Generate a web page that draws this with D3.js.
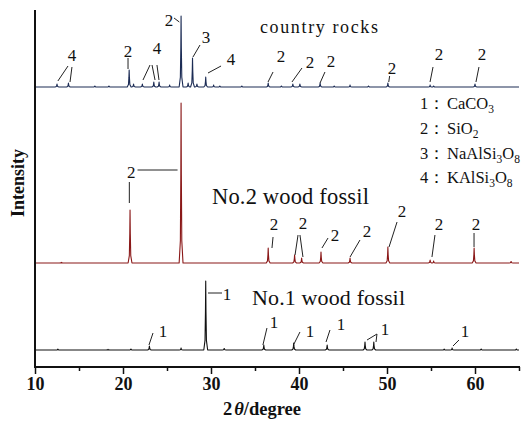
<!DOCTYPE html>
<html><head><meta charset="utf-8">
<script src="https://cdn.jsdelivr.net/npm/d3@7"></script>
<style>
html,body{margin:0;padding:0;background:#fff;}
svg{display:block;}
</style></head>
<body>
<svg id="chart" width="529" height="421"></svg>
<script>
// ---------------- data ----------------
const xTicks = [10, 20, 30, 40, 50, 60];
const xMinorTicks = [15, 25, 35, 45, 55, 65];
const xLabel = "2θ/degree";
const yLabel = "Intensity";

// peaks: [2θ, intensity above the pattern's own baseline]
const peaksCountryRocks = [[12.5,3],[13.8,4],[16.8,1],[18.4,1],[20.7,17],[21.2,3],[22.2,3],[23.5,5],[24.1,5],[25.3,2],[26.6,71],[27.4,4],[27.9,29],[28.4,3],[29.4,10],[30.3,2],[31.0,1],[33.5,1],[36.5,4],[38.0,1],[39.3,3],[40.1,3],[42.4,4],[44.0,1],[45.8,2],[47.9,1],[50.1,4],[54.9,2],[55.3,1],[60.0,3]];
const peaksNo2 = [[13.0,0.6],[20.8,53],[26.6,160],[36.5,15],[39.5,8],[40.3,5],[42.5,11],[45.8,5],[50.1,16],[54.9,3],[55.3,2],[59.9,15],[64.1,1.5]];
const peaksNo1 = [[12.6,0.8],[18.3,0.6],[20.9,1],[23.0,4],[26.6,2],[29.4,69],[31.5,1.5],[36.0,5],[39.4,7],[43.2,5],[47.5,8],[48.5,8],[56.5,0.8],[57.4,2],[60.7,1],[64.7,1]];

const seriesNames = ["country rocks", "No.2 wood fossil", "No.1 wood fossil"];
const seriesOffsets = [280, 104, 17];   // vertical stacking offset of each pattern

const legendNums = ["1：", "2：", "3：", "4："];
const legendFormulas = [
  [["CaCO",0],["3",1]],
  [["SiO",0],["2",1]],
  [["NaAlSi",0],["3",1],["O",0],["8",1]],
  [["KAlSi",0],["3",1],["O",0],["8",1]]
];

// peak annotations: label, text anchor (2θ, I), leader lines in (2θ, I)
const annCountry = [
  {t:"4", at:[14.2,312], lines:[[[13.75,301],[12.6,286]],[[14.2,300],[13.98,285]]]},
  {t:"2", at:[20.57,316], lines:[[[20.57,309],[20.57,298]]]},
  {t:"4", at:[23.86,319], lines:[[[23.07,302],[22.27,287]],[[23.3,302],[23.64,287]],[[23.86,302],[24.09,287]]]},
  {t:"2", at:[25.23,347], lines:[[[25.8,349],[26.4,345]]]},
  {t:"3", at:[29.43,330], lines:[[[28.75,322],[27.95,310]]]},
  {t:"4", at:[32.27,308], lines:[[[31.14,301],[29.66,294]]]},
  {t:"2", at:[37.95,311], lines:[[[37.05,295],[36.48,285]]]},
  {t:"2", at:[41.25,305], lines:[[[40.34,299],[39.2,285]]]},
  {t:"2", at:[43.64,306], lines:[[[42.95,295],[42.39,284]]]},
  {t:"2", at:[50.57,299], lines:[[[50.3,291],[50.2,285]]]},
  {t:"2", at:[55.9,313], lines:[[[55.23,300],[54.89,285]]]},
  {t:"2", at:[60.8,313], lines:[[[60.45,300],[60.11,285]]]}
];
const annNo2 = [
  {t:"2", at:[20.95,195], lines:[[[21.65,197],[26.2,197]],[[20.72,185],[20.72,164]]]},
  {t:"2", at:[37.16,143], lines:[[[37.05,130],[36.93,119]]]},
  {t:"2", at:[40.45,144], lines:[[[39.89,132],[39.55,112]],[[40.11,132],[40.45,110]]]},
  {t:"2", at:[44.09,132], lines:[[[43.3,129],[42.61,119]]]},
  {t:"2", at:[47.73,136], lines:[[[46.93,127],[45.8,110]]]},
  {t:"2", at:[51.7,156], lines:[[[51.14,145],[50.23,120]]]},
  {t:"2", at:[55.9,143], lines:[[[55.45,132],[55.11,110]]]},
  {t:"2", at:[60.11,143], lines:[[[59.89,134],[59.89,120]]]}
];
const annNo1 = [
  {t:"1", at:[24.55,36], lines:[[[23.41,34],[22.95,22]]]},
  {t:"1", at:[31.82,73], lines:[[[29.66,74],[31.25,74]]]},
  {t:"1", at:[37.16,45], lines:[[[36.36,39],[35.9,22]]]},
  {t:"1", at:[41.25,36], lines:[[[40.11,35],[39.43,23]]]},
  {t:"1", at:[44.77,43], lines:[[[43.52,37],[43.07,25]]]},
  {t:"1", at:[49.77,38], lines:[[[48.86,33],[47.73,27]],[[48.86,33],[48.75,25]]]},
  {t:"1", at:[58.86,36], lines:[[[58.18,27],[57.5,21]]]}
];

// ---------------- drawing ----------------
const SERIF = "Liberation Serif";
const svg = d3.select("#chart");
svg.append("rect").attr("width",529).attr("height",421).attr("fill","#fff");

const x = d3.scaleLinear().domain([10,65]).range([35,519]);
const y = d3.scaleLinear().domain([0,357]).range([367,10]);

const colors = ["#1c2c55", "#8a1818", "#111111"];
const allPeaks = [peaksCountryRocks, peaksNo2, peaksNo1];

function patternPoints(peaks, off){
  const pts = [[10,0]];
  peaks.forEach(([p,h])=>{
    pts.push([p-0.22,0],[p-0.08,0.14*h],[p-0.03,0.55*h],[p,h],[p+0.03,0.55*h],[p+0.08,0.14*h],[p+0.22,0]);
  });
  pts.push([65,0]);
  pts.sort((a,b)=>a[0]-b[0]);
  return pts.map(d=>[d[0], d[1]+off]);
}
const line = d3.line().x(d=>x(d[0])).y(d=>y(d[1]));

allPeaks.forEach((pk,i)=>{
  svg.append("path")
    .attr("d", line(patternPoints(pk, seriesOffsets[i])))
    .attr("fill","none").attr("stroke",colors[i]).attr("stroke-width",1.1)
    .attr("stroke-linejoin","round");
});

function txt(sel){ return sel.append("text").attr("font-family",SERIF).attr("fill","#111"); }

// axes
const xAxisG = svg.append("g").attr("transform","translate(0,367)");
xAxisG.call(d3.axisBottom(x).tickValues(xTicks).tickSize(7).tickFormat(d3.format("d")));
xAxisG.append("g").call(d3.axisBottom(x).tickValues(xMinorTicks).tickSize(4).tickFormat(""));
xAxisG.selectAll(".domain").remove();
xAxisG.attr("font-family", SERIF).attr("font-size", 18);
xAxisG.selectAll("g").attr("font-family", SERIF);
xAxisG.selectAll("line").attr("stroke","#111").attr("stroke-width",1.5);
xAxisG.selectAll("text").attr("font-family", SERIF)
  .attr("font-weight","bold").attr("font-size",18).attr("fill","#111").attr("y",10).attr("dy","0.71em");
svg.append("line").attr("x1",34).attr("x2",x(65)+1).attr("y1",367).attr("y2",367)
  .attr("stroke","#111").attr("stroke-width",2);
svg.append("line").attr("x1",35).attr("x2",35).attr("y1",y(357)).attr("y2",368)
  .attr("stroke","#111").attr("stroke-width",2);

// axis titles
const xt = txt(svg).attr("x",262).attr("y",415).attr("text-anchor","middle")
  .attr("font-weight","bold").attr("font-size",18.5);
xt.append("tspan").text(xLabel.slice(0,1));
xt.append("tspan").attr("font-style","italic").attr("dx",2).text(xLabel.slice(1,2));
xt.append("tspan").text(xLabel.slice(2));
txt(svg).attr("transform","translate(24,183) rotate(-90)").attr("text-anchor","middle")
  .attr("font-weight","bold").attr("font-size",18).text(yLabel);

// pattern names
txt(svg).attr("x",260).attr("y",33).attr("font-size",18)
  .attr("textLength",118).attr("lengthAdjust","spacing").text(seriesNames[0]);
txt(svg).attr("x",212).attr("y",204).attr("font-size",22.5)
  .attr("textLength",157).attr("lengthAdjust","spacing").text(seriesNames[1]);
txt(svg).attr("x",252).attr("y",305).attr("font-size",22)
  .attr("textLength",153).attr("lengthAdjust","spacing").text(seriesNames[2]);

// annotations
[annCountry, annNo2, annNo1].forEach(arr=>{
  arr.forEach(a=>{
    txt(svg).attr("x",x(a.at[0])).attr("y",y(a.at[1]))
      .attr("text-anchor","middle").attr("dominant-baseline","central")
      .attr("font-size",17).text(a.t);
    a.lines.forEach(l=>{
      svg.append("line").attr("x1",x(l[0][0])).attr("y1",y(l[0][1]))
        .attr("x2",x(l[1][0])).attr("y2",y(l[1][1]))
        .attr("stroke","#222").attr("stroke-width",1);
    });
  });
});

// legend
const legY = [109, 134, 159, 183];
legendNums.forEach((n,i)=>{
  txt(svg).attr("x",420).attr("y",legY[i]).attr("font-size",16.5).text(n);
  const t = txt(svg).attr("x",447).attr("y",legY[i]).attr("font-size",16.5);
  legendFormulas[i].forEach(([s,sub],j)=>{
    const ts = t.append("tspan").text(s);
    if(sub){ ts.attr("font-size",11.5).attr("dy",4); }
    else if(j>0){ ts.attr("dy",-4); }
  });
});
</script>
</body></html>
